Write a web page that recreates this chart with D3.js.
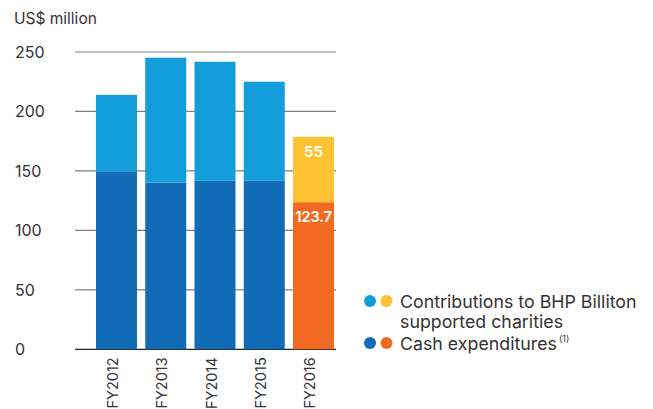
<!DOCTYPE html>
<html>
<head>
<meta charset="utf-8">
<script src="https://cdn.jsdelivr.net/npm/d3@7"></script>
<style>
  body { margin: 0; background: #fff; }
  text { font-family: Inter, "Noto Sans", sans-serif; fill: #333; }
</style>
</head>
<body>
<svg id="chart" width="653" height="409"></svg>
<script>
const years = ["FY2012", "FY2013", "FY2014", "FY2015", "FY2016"];
const cash = [149.6, 140.2, 141.7, 141.7, 123.7];
const contributions = [64.4, 105.0, 100.1, 83.3, 55];
const yTicks = [0, 50, 100, 150, 200, 250];
const valueLabels = [null, null, null, null, { cash: "123.7", contributions: "55" }];

const margin = { top: 52, left: 75 };
const height = 349.3 - margin.top;
const width = 336 - margin.left;

const svg = d3.select("#chart");
const g = svg.append("g").attr("transform", `translate(${margin.left},${margin.top})`);

const x = d3.scaleBand().domain(years).range([21, 259]).paddingInner(0.1675).paddingOuter(0);
const y = d3.scaleLinear().domain([0, 250]).range([height, 0]);

// gridlines
g.selectAll(".grid").data(yTicks).enter().append("line")
  .attr("x1", 0).attr("x2", width)
  .attr("y1", d => y(d)).attr("y2", d => y(d))
  .attr("stroke", d => d === 0 ? "#222" : "#808080")
  .attr("stroke-width", 1.2);

g.selectAll(".ytick").data(yTicks).enter().append("text")
  .attr("x", -60).attr("y", d => y(d)).attr("dy", "0.36em")
  .attr("font-size", 16).text(d => d);

svg.append("text").attr("x", 14).attr("y", 24).attr("font-size", 15.5).text("US$ million");

const rows = years.map((yr, i) => ({ yr, i, cash: cash[i], contrib: contributions[i] }));
const cashColor = i => i === 4 ? "#f26a21" : "#116bb6";
const contribColor = i => i === 4 ? "#fec232" : "#149ddb";

g.selectAll(".cash").data(rows).enter().append("rect")
  .attr("x", d => x(d.yr)).attr("width", x.bandwidth())
  .attr("y", d => y(d.cash)).attr("height", d => y(0) - y(d.cash))
  .attr("fill", d => cashColor(d.i));

g.selectAll(".contrib").data(rows).enter().append("rect")
  .attr("x", d => x(d.yr)).attr("width", x.bandwidth())
  .attr("y", d => y(d.cash + d.contrib)).attr("height", d => y(d.cash) - y(d.cash + d.contrib))
  .attr("fill", d => contribColor(d.i));

// value labels
rows.filter(d => valueLabels[d.i]).forEach(d => {
  const lab = valueLabels[d.i];
  g.append("text").attr("x", x(d.yr) + x.bandwidth() / 2).attr("y", y(d.cash) + 20)
    .attr("text-anchor", "middle").attr("font-size", 15).attr("font-weight", 600)
    .attr("letter-spacing", -0.3)
    .style("fill", "#fff").text(lab.cash);
  g.append("text").attr("x", x(d.yr) + x.bandwidth() / 2).attr("y", y(d.cash + d.contrib) + 20)
    .attr("text-anchor", "middle").attr("font-size", 15).attr("font-weight", 600)
    .style("fill", "#fff").text(lab.contributions);
});

// x labels, rotated
g.selectAll(".xlab").data(years).enter().append("text")
  .attr("transform", d => `translate(${x(d) + x.bandwidth() / 2 + 1.5},${height + 8}) rotate(-90)`)
  .attr("text-anchor", "end").attr("font-size", 14.5).text(d => d);

// legend
const leg = svg.append("g");
const legendItems = [
  { c1: "#149ddb", c2: "#fec232", y: 301, lines: ["Contributions to BHP Billiton", "supported charities"], note: false },
  { c1: "#116bb6", c2: "#f26a21", y: 343, lines: ["Cash expenditures"], note: true }
];
legendItems.forEach(it => {
  leg.append("circle").attr("cx", 370).attr("cy", it.y).attr("r", 6).attr("fill", it.c1);
  leg.append("circle").attr("cx", 386.5).attr("cy", it.y).attr("r", 6).attr("fill", it.c2);
  it.lines.forEach((l, k) => {
    const t = leg.append("text").attr("x", 400).attr("y", it.y + 6.5 + k * 20.2).attr("font-size", 17.8).text(l);
    if (it.note) t.append("tspan").attr("font-size", 9).attr("dx", 2).attr("dy", -8).text("(1)");
  });
});
</script>
</body>
</html>
